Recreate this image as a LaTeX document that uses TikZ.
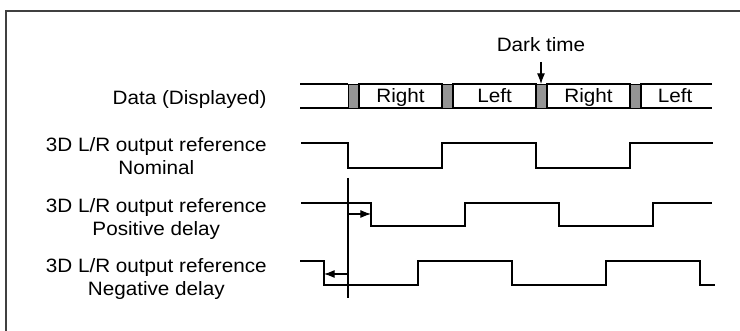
\documentclass[tikz,border=0pt]{standalone}
\usepackage{fontspec}
\setmainfont{Liberation Sans}[FakeStretch=1.07]
\usetikzlibrary{arrows.meta}

\tikzset{
  lbl/.style={font=\fontsize{11}{13.2}\selectfont, align=center, inner sep=0pt},
  wave/.style={line width=1.2pt, line join=miter},
  frame/.style={line width=0.6pt},
  darkbox/.style={draw, line width=0.5pt, fill=black!42},
  databox/.style={draw, line width=0.6pt},
  delay/.style={line width=0.6pt, -{Latex[length=6pt,width=4.5pt]}},
}

\begin{document}
\begin{tikzpicture}
  \useasboundingbox (0,0) rectangle (14.8,-6.62);
  \draw[line width=0.8pt, black!75] (0.12,-6.62) -- (0.12,-0.22) -- (14.8,-0.22);

  % labels
  \node[lbl, anchor=base east] (ldata) at (5.34,-2.1) {Data (Displayed)};
  \node[lbl, anchor=base east] (lnom) at (5.34,-3.5) {3D L/R output reference\\Nominal};
  \node[lbl, anchor=base east] (lpos) at (5.34,-4.714) {3D L/R output reference\\Positive delay};
  \node[lbl, anchor=base east] (lneg) at (5.34,-5.92) {3D L/R output reference\\Negative delay};

  % displayed data
  \draw[frame] (6.0,-1.68) -- (6.96,-1.68);
  \draw[frame] (6.0,-2.16) -- (6.96,-2.16);
  \foreach \i/\txt in {0/Right,1/Left,2/Right} {
    \draw[darkbox] (6.96+1.88*\i,-1.68) rectangle ++(0.22,-0.48);
    \draw[databox] (7.18+1.88*\i,-1.68) rectangle (8.84+1.88*\i,-2.16);
    \node[lbl, anchor=base] (d\i) at (8.01+1.88*\i,-2.054) {\txt};
  }
  \draw[darkbox] (12.6,-1.68) rectangle ++(0.22,-0.48);
  \draw[frame] (14.24,-1.68) -- (12.82,-1.68) -- (12.82,-2.16) -- (14.24,-2.16);
  \node[lbl, anchor=base] (d3) at (13.5,-2.054) {Left};

  \node[lbl, anchor=base] (dark) at (10.82,-1.034) {Dark time};
  \coordinate (darktop) at (10.82,-1.24);
  \coordinate (darkbot) at (10.82,-1.68);
  \draw[delay] (darktop) -- (darkbot);

  % waveforms
  \draw[wave] (6.02,-2.86) -- (6.96,-2.86) -- (6.96,-3.36) -- (8.84,-3.36) -- (8.84,-2.86)
    -- (10.72,-2.86) -- (10.72,-3.36) -- (12.6,-3.36) -- (12.6,-2.86) -- (14.26,-2.86);
  \draw[wave] (6.02,-4.06) -- (7.42,-4.06) -- (7.42,-4.52) -- (9.3,-4.52) -- (9.3,-4.06)
    -- (11.18,-4.06) -- (11.18,-4.52) -- (13.06,-4.52) -- (13.06,-4.06) -- (14.24,-4.06);
  \draw[wave] (6.0,-5.22) -- (6.48,-5.22) -- (6.48,-5.70) -- (8.36,-5.70) -- (8.36,-5.22)
    -- (10.24,-5.22) -- (10.24,-5.70) -- (12.12,-5.70) -- (12.12,-5.22) -- (14.0,-5.22)
    -- (14.0,-5.70) -- (14.3,-5.70);

  % reference line and delays
  \coordinate (reftop) at (6.96,-3.56);
  \coordinate (refbot) at (6.96,-5.96);
  \draw[frame] (reftop) -- (refbot);
  \coordinate (posa) at (6.96,-4.28);
  \coordinate (posb) at (7.42,-4.28);
  \coordinate (nega) at (6.96,-5.48);
  \coordinate (negb) at (6.48,-5.48);
  \draw[delay] (posa) -- (posb);
  \draw[delay] (nega) -- (negb);
\end{tikzpicture}
\end{document}
